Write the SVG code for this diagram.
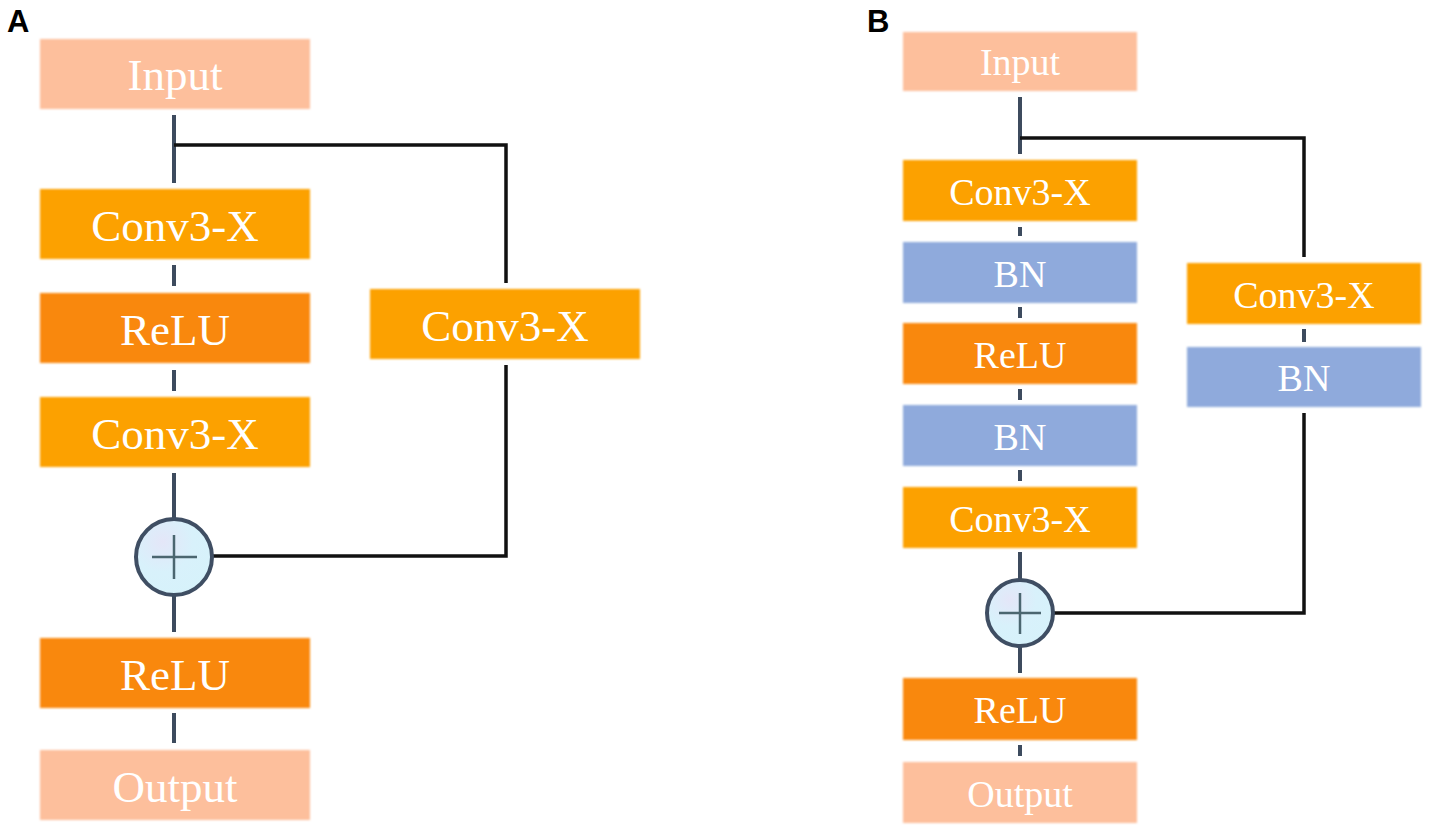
<svg xmlns="http://www.w3.org/2000/svg" width="1429" height="830" viewBox="0 0 1429 830">
<defs>
<filter id="soft" x="-5%" y="-10%" width="110%" height="120%"><feGaussianBlur stdDeviation="0.9"/></filter>
<radialGradient id="cg" cx="0.35" cy="0.3" r="0.8"><stop offset="0" stop-color="#E4E6F8"/><stop offset="0.5" stop-color="#D8F1FB"/><stop offset="1" stop-color="#D6F2FA"/></radialGradient>
<style>
.io{fill:#FDBF9C}
.conv{fill:#FCA104}
.relu{fill:#F98808}
.bn{fill:#8FAADC}
rect{filter:url(#soft)}
.t{font-family:"Liberation Serif","Times New Roman",serif;fill:#FFFFFF;text-anchor:middle}
.ta{font-size:45px}
.tb{font-size:38px}
.lbl{font-family:"Liberation Sans",Arial,sans-serif;font-weight:bold;font-size:31px;fill:#000}
.lk{stroke:#3D4B5E;stroke-width:4;fill:none}
.sk{stroke:#111111;stroke-width:3.5;fill:none}
.sum{fill:url(#cg);stroke:#3F4E63;stroke-width:4}
.plus{stroke:#4B6670;stroke-width:2.5}
</style>
</defs>
<rect width="1429" height="830" fill="#FFFFFF" style="filter:none"/>
<text class="lbl" x="7" y="32">A</text>
<text class="lbl" x="867" y="32">B</text>

<g id="connectors">
<g id="connA">
<line class="lk" x1="174" y1="115" x2="174" y2="183"/>
<line class="lk" x1="174" y1="265" x2="174" y2="286"/>
<line class="lk" x1="174" y1="370" x2="174" y2="391"/>
<line class="lk" x1="174" y1="473" x2="174" y2="519"/>
<line class="lk" x1="174" y1="596" x2="174" y2="632"/>
<line class="lk" x1="174" y1="713" x2="174" y2="743"/>
<path class="sk" d="M174,145 H506 V283"/>
<path class="sk" d="M506,365 V556 H212"/>
</g>
<g id="connB">
<line class="lk" x1="1020" y1="97" x2="1020" y2="154" stroke-width="3.5"/>
<line class="lk" x1="1020" y1="227" x2="1020" y2="236"/>
<line class="lk" x1="1020" y1="307" x2="1020" y2="318"/>
<line class="lk" x1="1020" y1="389" x2="1020" y2="400"/>
<line class="lk" x1="1020" y1="470" x2="1020" y2="481"/>
<line class="lk" x1="1020" y1="552" x2="1020" y2="580"/>
<line class="lk" x1="1020" y1="646" x2="1020" y2="673"/>
<line class="lk" x1="1020" y1="745" x2="1020" y2="756"/>
<line class="lk" x1="1304" y1="329" x2="1304" y2="342"/>
<path class="sk" d="M1020,138 H1304 V257"/>
<path class="sk" d="M1304,413 V613 H1054"/>
</g>
</g>

<g id="A_input"><rect class="io" x="40" y="39" width="270" height="70"/><text class="t ta" x="175" y="90">Input</text></g>
<g id="A_conv1"><rect class="conv" x="40" y="189" width="270" height="70"/><text class="t ta" x="175" y="241">Conv3-X</text></g>
<g id="A_relu1"><rect class="relu" x="40" y="293" width="270" height="70"/><text class="t ta" x="175" y="345">ReLU</text></g>
<g id="A_conv2"><rect class="conv" x="40" y="397" width="270" height="70"/><text class="t ta" x="175" y="449">Conv3-X</text></g>
<g id="A_convR"><rect class="conv" x="370" y="289" width="270" height="70"/><text class="t ta" x="505" y="341">Conv3-X</text></g>
<g id="A_sum"><circle class="sum" cx="174" cy="557" r="38"/><line class="plus" x1="152" y1="557" x2="197" y2="557"/><line class="plus" x1="174" y1="535" x2="174" y2="579"/></g>
<g id="A_relu2"><rect class="relu" x="40" y="638" width="270" height="70"/><text class="t ta" x="175" y="690">ReLU</text></g>
<g id="A_output"><rect class="io" x="40" y="750" width="270" height="70"/><text class="t ta" x="175" y="802">Output</text></g>

<g id="B_input"><rect class="io" x="903" y="32" width="234" height="59"/><text class="t tb" x="1020" y="75">Input</text></g>
<g id="B_conv1"><rect class="conv" x="903" y="160" width="234" height="61"/><text class="t tb" x="1020" y="205">Conv3-X</text></g>
<g id="B_bn1"><rect class="bn" x="903" y="242" width="234" height="61"/><text class="t tb" x="1020" y="287">BN</text></g>
<g id="B_relu1"><rect class="relu" x="903" y="323" width="234" height="61"/><text class="t tb" x="1020" y="368">ReLU</text></g>
<g id="B_bn2"><rect class="bn" x="903" y="405" width="234" height="61"/><text class="t tb" x="1020" y="450">BN</text></g>
<g id="B_conv2"><rect class="conv" x="903" y="487" width="234" height="61"/><text class="t tb" x="1020" y="532">Conv3-X</text></g>
<g id="B_convR"><rect class="conv" x="1187" y="263" width="234" height="61"/><text class="t tb" x="1304" y="308">Conv3-X</text></g>
<g id="B_bnR"><rect class="bn" x="1187" y="347" width="234" height="60"/><text class="t tb" x="1304" y="391">BN</text></g>
<g id="B_sum"><circle class="sum" cx="1020" cy="613" r="33" stroke-width="3.5"/><line class="plus" x1="999" y1="613" x2="1041" y2="613"/><line class="plus" x1="1020" y1="593" x2="1020" y2="634"/></g>
<g id="B_relu2"><rect class="relu" x="903" y="678" width="234" height="62"/><text class="t tb" x="1020" y="723">ReLU</text></g>
<g id="B_output"><rect class="io" x="903" y="762" width="234" height="61"/><text class="t tb" x="1020" y="807">Output</text></g>
</svg>
